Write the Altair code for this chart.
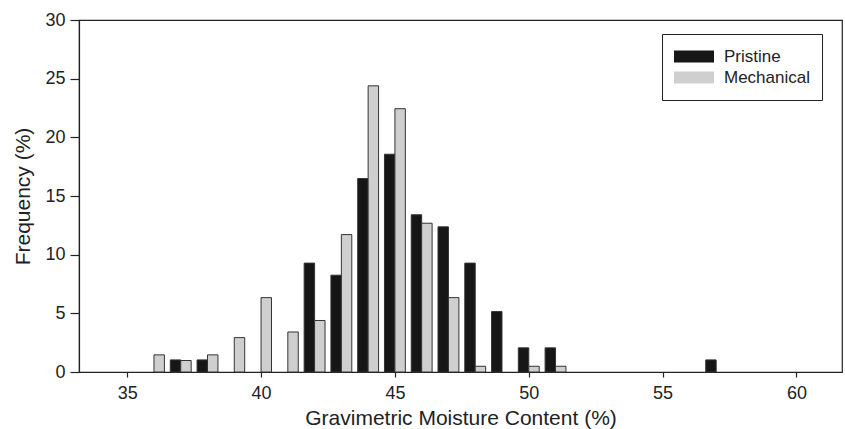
import altair as alt
import pandas as pd

# Bin centres (gravimetric moisture content, %)
bins = [36, 37, 38, 39, 40, 41, 42, 43, 44, 45, 46, 47, 48, 49, 50, 51, 57]
# Frequency (%) per bin
pristine = [0, 1.03, 1.03, 0, 0, 0, 9.28, 8.25, 16.49, 18.56, 13.40, 12.37, 9.28, 5.15, 2.06, 2.06, 1.03]
mechanical = [1.46, 0.98, 1.46, 2.93, 6.34, 3.41, 4.39, 11.71, 24.39, 22.44, 12.68, 6.34, 0.49, 0, 0.49, 0.49, 0]

series_names = ["Pristine", "Mechanical"]
series_colors = ["#161616", "#cfcfcf"]
x_ticks = [35, 40, 45, 50, 55, 60]
y_ticks = [0, 5, 10, 15, 20, 25, 30]

rows = []
for b, p, m in zip(bins, pristine, mechanical):
    rows.append({"bin": b, "series": "Pristine", "value": p})
    rows.append({"bin": b, "series": "Mechanical", "value": m})
df = pd.DataFrame(rows)

BAR_W = 0.39
FONT = "Liberation Sans"
INK = "#222222"

bars = (
    alt.Chart(df)
    .transform_filter("datum.value > 0")
    .transform_calculate(
        x0=f"datum.series == 'Pristine' ? datum.bin - {BAR_W} : datum.bin",
        x1=f"datum.series == 'Pristine' ? datum.bin : datum.bin + {BAR_W}",
    )
    .mark_bar(stroke="#333333", strokeWidth=1)
    .encode(
        x=alt.X(
            "x0:Q",
            scale=alt.Scale(domain=[33.2, 61.7], nice=False, zero=False),
            axis=alt.Axis(values=x_ticks, title="Gravimetric Moisture Content (%)",
                          grid=False, tickSize=5, labelPadding=7, titlePadding=5),
        ),
        x2="x1:Q",
        y=alt.Y(
            "value:Q",
            scale=alt.Scale(domain=[0, 30], nice=False),
            axis=alt.Axis(values=y_ticks, title="Frequency (%)", grid=False,
                          tickSize=9, labelPadding=5, titlePadding=11),
        ),
        y2=alt.datum(0),
        color=alt.Color(
            "series:N",
            scale=alt.Scale(domain=series_names, range=series_colors),
            legend=alt.Legend(
                orient="none", legendX=583, legendY=14, title=None,
                symbolType="M-1,-0.3H1V0.3H-1Z", symbolSize=1600,
                symbolStrokeWidth=0, strokeColor=INK, fillColor="white",
                padding=12, clipHeight=21, rowPadding=0, labelOffset=10,
                labelFontSize=17, labelFont=FONT, labelColor=INK,
                labelExpr="datum.label + '  '",
            ),
        ),
    )
)

chart = (
    bars.properties(
        width=763, height=352,
        autosize=alt.AutoSizeParams(type="none"),
        padding={"left": 79, "top": 20, "right": 3, "bottom": 57},
        background="white",
    )
    .configure_view(stroke=INK, strokeWidth=1.2)
    .configure_axis(
        domainColor=INK, tickColor=INK, labelColor=INK, titleColor=INK,
        labelFont=FONT, titleFont=FONT, labelFontSize=18, titleFontSize=21,
        titleFontWeight="normal", domainWidth=1.2, tickWidth=1.2,
    )
)

chart.save("out.html", embed_options={"renderer": "svg", "actions": False})
